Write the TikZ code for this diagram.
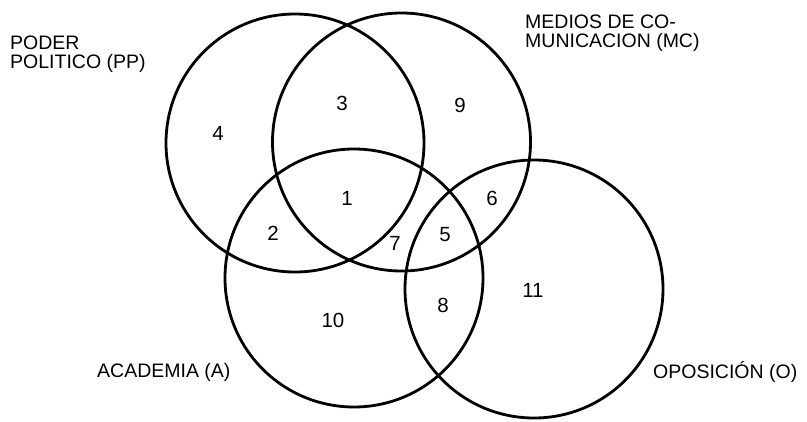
\documentclass[tikz,border=0pt]{standalone}
\usepackage{fontspec}
\setmainfont{Liberation Sans}
\begin{document}
\begin{tikzpicture}[x=1pt,y=-1pt,
  circ/.style={draw, line width=2.8pt, circle, minimum size=258pt, inner sep=0pt},
  num/.style={font=\fontsize{20.5}{20.5}\selectfont, inner sep=0pt},
  lab/.style={font=\fontsize{19.5}{18.5}\selectfont, anchor=west, align=left, inner sep=0pt}]
\useasboundingbox[fill=white] (0,0) rectangle (807,421);
% circles
\node[circ] (PP) at (295,143) {};
\node[circ] (MC) at (401.5,142) {};
\node[circ] (A) at (354,278) {};
\node[circ] (O) at (534,289) {};
% region numbers
\node[num] (n1) at (347,198) {1};
\node[num] (n2) at (273,233) {2};
\node[num] (n3) at (342,103) {3};
\node[num] (n4) at (218,133) {4};
\node[num] (n5) at (445,235) {5};
\node[num] (n6) at (492,198) {6};
\node[num] (n7) at (395,243) {7};
\node[num] (n8) at (443,305) {8};
\node[num] (n9) at (460,105) {9};
\node[num] (n10) at (333,320) {10};
\node[num] (n11) at (533,290) {11};
% labels
\node[lab] (lPP) at (10,54) {PODER\\POLITICO (PP)};
\node[lab] (lMC) at (525,33) {MEDIOS DE CO-\\MUNICACION (MC)};
\node[lab] (lA) at (97,372) {ACADEMIA (A)};
\node[lab] (lO) at (653,372) {OPOSICIÓN (O)};
\end{tikzpicture}
\end{document}
